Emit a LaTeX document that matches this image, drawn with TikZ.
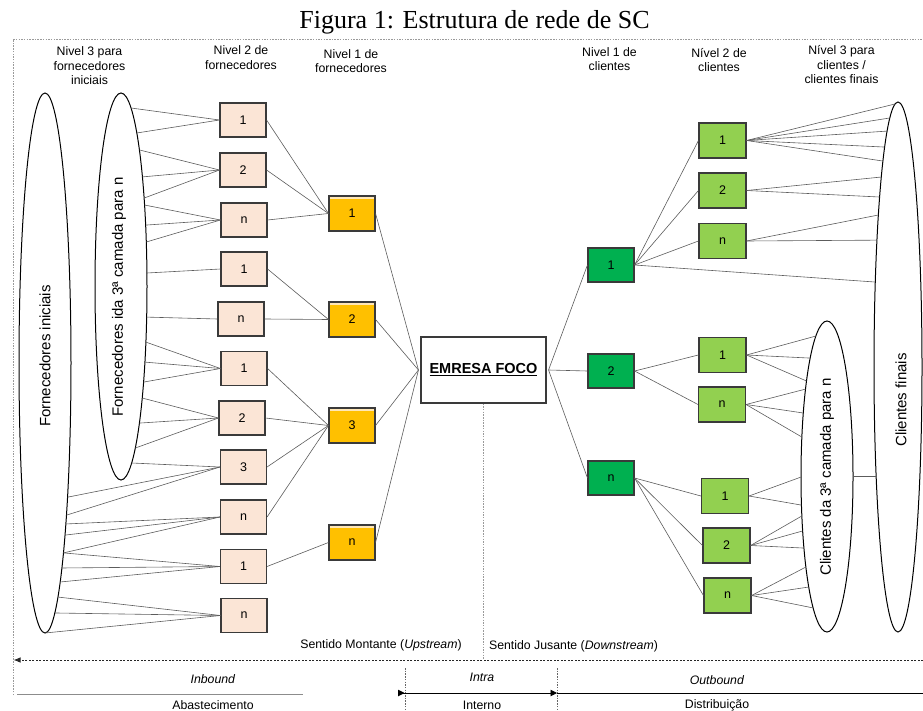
\documentclass[tikz,border=0pt]{standalone}
\usepackage{fontspec}
\setmainfont{Liberation Sans}
\newfontfamily\titlefont{Liberation Serif}
\usetikzlibrary{shapes.geometric,calc,arrows.meta}
\definecolor{peach}{HTML}{FBE5D6}
\definecolor{amber}{HTML}{FFC000}
\definecolor{ambertop}{HTML}{FFE7B8}
\definecolor{darkgreen}{HTML}{00B050}
\definecolor{lightgreen}{HTML}{92D050}
\definecolor{boxline}{HTML}{3A3A3A}
\definecolor{linkgray}{HTML}{5C5C5C}
\definecolor{framegray}{HTML}{9A9A9A}

\begin{document}
\begin{tikzpicture}[x=1pt,y=-1pt,
  txt/.style={inner sep=0pt, font=\fontsize{12.3}{14.5}\selectfont},
  hdr/.style={txt, align=center},
  box/.style={draw=boxline, line width=1.1pt, minimum width=46pt, minimum height=34pt,
    inner sep=0pt, font=\fontsize{12.5}{14}\selectfont},
  suptwo/.style={box, fill=peach},
  supone/.style={box, fill=amber, minimum height=35pt,
    path picture={\fill[ambertop] ([yshift=-0.6pt]path picture bounding box.north west)
      rectangle ([yshift=-3.4pt]path picture bounding box.north east);}},
  custone/.style={box, fill=darkgreen},
  custtwo/.style={box, fill=lightgreen, minimum width=47pt, minimum height=35pt},
  ell/.style={ellipse, draw=black, line width=1pt, inner sep=0pt},
  elltxt/.style={rotate=90, inner sep=0pt, font=\fontsize{15}{18}\selectfont},
  link/.style={draw=linkgray, line width=0.6pt},
  frame/.style={draw=framegray, line width=0.7pt, dash pattern=on 1.5pt off 1.2pt},
  flow/.style={draw=black!85, line width=0.8pt, dash pattern=on 2pt off 1.5pt,
    -{Latex[length=7pt,width=5.5pt]}},
  phase/.style={draw=black, line width=0.9pt}]

\useasboundingbox (0,0) rectangle (923,711);

% title
\node[anchor=base, inner sep=0pt, font=\titlefont\fontsize{26}{30}\selectfont]
  (title) at (474.5,29) {Figura 1: Estrutura de rede de SC};

% column headings
\node[hdr] (h1) at (89.5,66) {Nivel 3 para\\fornecedores\\iniciais};
\node[hdr] (h2) at (241,57.5) {Nivel 2 de\\fornecedores};
\node[hdr] (h3) at (351,61) {Nivel 1 de\\fornecedores};
\node[hdr] (h4) at (609.5,59) {Nivel 1 de\\clientes};
\node[hdr] (h5) at (719,60) {Nível 2 de\\clientes};
\node[hdr] (h6) at (841.5,65) {Nível 3 para\\clientes /\\clientes finais};

% supplier ellipses
\node[ell, minimum width=52pt, minimum height=540pt] (E1) at (45,363) {};
\node[ell, minimum width=52pt, minimum height=387pt] (E2) at (121,286.5) {};
\node[elltxt] (E1t) at (45,356) {Fornecedores iniciais};
\node[elltxt] (E2t) at (119,297) {Fornecedores ida 3ª camada para n};

% customer ellipses
\node[ell, minimum width=52pt, minimum height=311pt] (E3) at (827,476.5) {};
\node[ell, minimum width=48pt, minimum height=530pt] (E4) at (898,367) {};
\node[elltxt] (E3t) at (827,477) {Clientes da 3ª camada para n};
\node[elltxt] (E4t) at (901,400) {Clientes finais};

% level 2 suppliers
\node[suptwo] (s1) at (243,120) {1};
\node[suptwo] (s2) at (243,170) {2};
\node[suptwo] (s3) at (244,220) {n};
\node[suptwo] (s4) at (244,269) {1};
\node[suptwo] (s5) at (241,319) {n};
\node[suptwo] (s6) at (244,368.5) {1};
\node[suptwo] (s7) at (242,418) {2};
\node[suptwo] (s8) at (243.5,467) {3};
\node[suptwo] (s9) at (243.5,517) {n};
\node[suptwo] (s10) at (243.5,566.5) {1};
\node[suptwo] (s11) at (244,615.5) {n};

% level 1 suppliers
\node[supone] (f1) at (352,213.5) {1};
\node[supone] (f2) at (352,319.5) {2};
\node[supone] (f3) at (352,425.5) {3};
\node[supone] (f4) at (352,542.5) {n};

% focal company
\node[draw=boxline, line width=1.1pt, minimum width=125pt, minimum height=66pt, inner sep=0pt,
  font=\bfseries\fontsize{14.5}{17}\selectfont] (focus) at (483.5,370) {\underline{EMRESA FOCO}};

% level 1 customers
\node[custone] (c1) at (611,265) {1};
\node[custone] (c2) at (611,371) {2};
\node[custone] (c3) at (611,478) {n};

% level 2 customers
\node[custtwo] (d1) at (722.5,140.5) {1};
\node[custtwo] (d2) at (722.5,190.5) {2};
\node[custtwo] (d3) at (722.5,241) {n};
\node[custtwo] (d4) at (722.5,355) {1};
\node[custtwo] (d5) at (722,404.5) {n};
\node[custtwo] (d6) at (725,496) {1};
\node[custtwo] (d7) at (726.5,545.5) {2};
\node[custtwo] (d8) at (727.5,595.5) {n};

% attachment points on the ellipse borders
\foreach \t [count=\i] in {-67.3,-52.5,-44.9,-34.5,-27.2,-24.9,-18.5,-13.3,-4.0,9.1,16.7,23.0,29.6,35.2,44.9,56.6,65.8}
  \coordinate (a\i) at ($(E2.center)+(\t:26 and 193.5)$);
\foreach \t [count=\i] in {29.8,34.3,36.6,39.6,44.7,49.4,54.2,60.1,67.8,90}
  \coordinate (b\i) at ($(E1.center)+(\t:26 and 270)$);
\foreach \t [count=\i] in {244.6,229.6,217.9,214.2,204.1,194.7,179.8,169.4,165.3,159.5,152.6,144.4,134.7,122.3}
  \coordinate (q\i) at ($(E3.center)+(\t:26 and 155.5)$);
\foreach \t [count=\i] in {263,250,242.9,236.1,231,225.8,219.9,215,208.6,198.7,155.6}
  \coordinate (r\i) at ($(E4.center)+(\t:24 and 265)$);

% third tier suppliers -> level 2 suppliers
\foreach \p/\b in {a1/s1,a2/s1,a3/s2,a4/s2,a5/s2,a6/s3,a7/s3,a8/s3,a9/s4,a10/s5,
                   a11/s6,a12/s6,a13/s6,a14/s7,a15/s7,a16/s7,a17/s8,
                   b1/s8,b2/s8,b3/s9,b4/s9,b5/s9,b5/s10,b6/s10,b7/s10,b8/s11,b9/s11,b10/s11}
  \draw[link] (\p) -- (\b.west);

% level 2 -> level 1 suppliers
\foreach \a/\b in {s1/f1,s2/f1,s3/f1,s4/f2,s5/f2,s6/f3,s7/f3,s8/f3,s9/f3,s10/f4}
  \draw[link] (\a.east) -- (\b.west);

% level 1 suppliers -> focal company
\foreach \a in {f1,f2,f3,f4}
  \draw[link] (\a.east) -- ([xshift=-2pt]focus.west);

% focal company -> level 1 customers
\foreach \b in {c1,c2,c3}
  \draw[link] ([xshift=2pt]focus.east) -- (\b.west);

% level 1 -> level 2 customers
\foreach \a/\b in {c1/d1,c1/d2,c1/d3,c2/d4,c2/d5,c3/d6,c3/d7,c3/d8}
  \draw[link] (\a.east) -- (\b.west);

% level 2 customers -> ellipses
\foreach \b/\p in {d1/r1,d1/r2,d1/r3,d1/r4,d1/r5,d2/r6,d2/r7,d3/r8,d3/r9,c1/r10,
                   d4/q1,d4/q2,d4/q3,d5/q4,d5/q5,d5/q6,d6/q7,d6/q8,
                   d7/q9,d7/q10,d7/q11,d8/q12,d8/q13,d8/q14}
  \draw[link] (\b.east) -- (\p);
\draw[link] (E3.east) -- (r11);

% outer frame and flow direction
\coordinate (frameBL) at (13,695);
\coordinate (frameTL) at (13,39);
\coordinate (frameTR) at (923,39);
\draw[frame] (frameBL) -- (frameTL) -- (frameTR);
\coordinate (flowR) at (923,660);
\coordinate (flowL) at (13.5,660);
\draw[flow] (flowR) -- (flowL);
\coordinate (focusfoot) at (focus.south |- flowL);
\draw[frame] (focus.south) -- (focusfoot);

\node[txt] (up) at (381,645) {Sentido Montante (\textit{Upstream})};
\node[txt] (down) at (573.5,646) {Sentido Jusante (\textit{Downstream})};

% logistics phases
\coordinate (inL) at (17,694);
\coordinate (inR) at (303,694);
\draw[draw=black!45, line width=1pt] (inL) -- (inR);
\coordinate (sepA) at (405,668);
\coordinate (sepAb) at (405,711);
\coordinate (sepB) at (557,668);
\coordinate (sepBb) at (557,711);
\draw[frame, draw=black!60] (sepA) -- (sepAb);
\draw[frame, draw=black!60] (sepB) -- (sepBb);
\coordinate (intraL) at (398,693);
\coordinate (intraR) at (557,693);
\coordinate (outR) at (923,693);
\draw[phase, {Triangle[reversed,length=6.5pt,width=6.5pt]}-{Triangle[length=6.5pt,width=6.5pt]}] (intraL) -- (intraR);
\draw[phase] (intraR) -- (outR);

\node[txt] (inb) at (213,679) {\textit{Inbound}};
\node[txt] (abs) at (213,705.5) {Abastecimento};
\node[txt] (intra) at (482,677) {\textit{Intra}};
\node[txt] (intern) at (482,705.5) {Interno};
\node[txt] (outb) at (717,680) {\textit{Outbound}};
\node[txt] (dist) at (717,705) {Distribuição};

\end{tikzpicture}
\end{document}
